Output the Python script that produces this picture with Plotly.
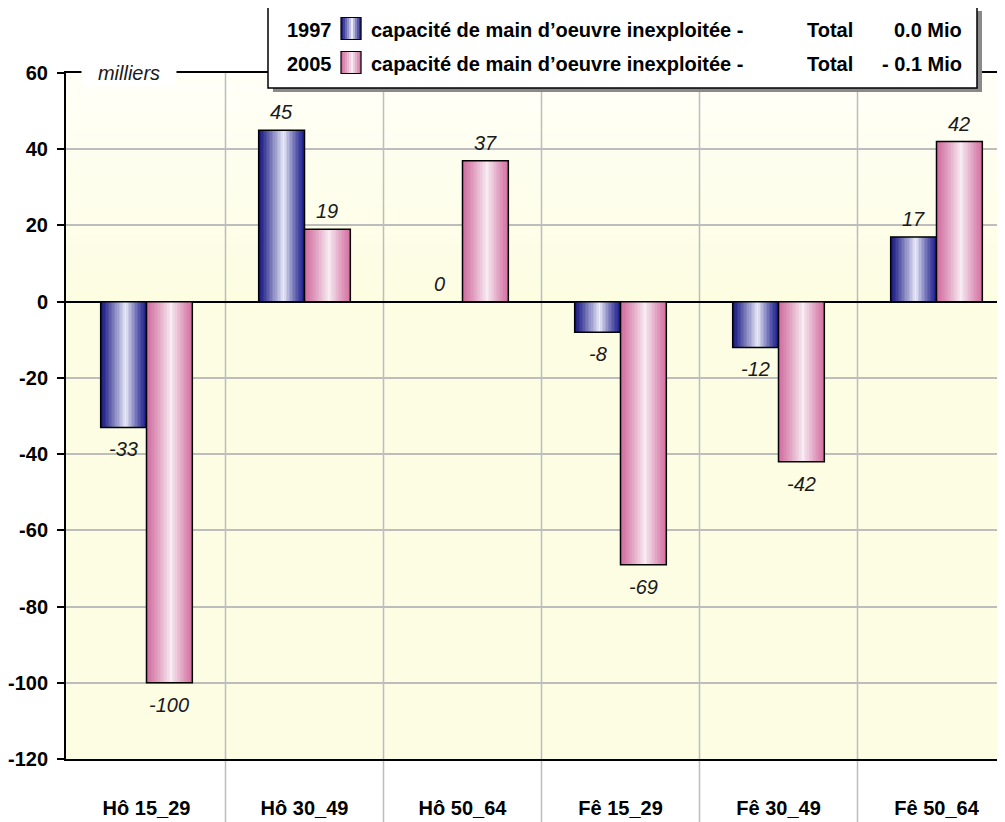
import plotly.graph_objects as go

categories = ["Hô 15_29", "Hô 30_49", "Hô 50_64", "Fê 15_29", "Fê 30_49", "Fê 50_64"]
values_1997 = [-33, 45, 0, -8, -12, 17]
values_2005 = [-100, 19, 37, -69, -42, 42]
series_names = ["1997", "2005"]
legend_label = "capacité de main d’oeuvre inexploitée -"
legend_totals = ["0.0 Mio", "- 0.1 Mio"]
y_ticks = [60, 40, 20, 0, -20, -40, -60, -80, -100, -120]
y_tick_text = ["60", "40", "20", "0", "-20", "-40", "-60", "-80", "-100", "-120"]

# the page body has an 8px margin: reference pixel coords are shifted by 8
OFF = 8
W, H = 1005 - OFF, 822 - OFF
ML, MT = 66 - OFF, 73 - OFF
PH = 759 - 73
MB = H - MT - PH
MR = 0
PW = W - ML - MR
FONT = "Arial, Liberation Sans, sans-serif"

def xp(px):
    return (px - 66) / PW

def yp(py):
    return (759 - py) / PH

def mix(c1, c2, t):
    return "rgb(%d,%d,%d)" % tuple(round(a + (b - a) * t) for a, b in zip(c1, c2))

def mixt(c1, c2, t):
    return tuple(round(a + (b - a) * t) for a, b in zip(c1, c2))

def profile(f, peak=0.55):
    if f < peak:
        t = f / peak
    else:
        t = 1 - (f - peak) / (1 - peak)
    return t ** 1.2

styles = [
    dict(left=(20, 20, 125), right=(35, 35, 145), light=(234, 234, 248)),
    dict(left=(208, 108, 158), right=(214, 116, 165), light=(247, 236, 242)),
]

BW = 0.29
N = 30
fig = go.Figure()
x_idx = list(range(len(categories)))
for s, vals in enumerate([values_1997, values_2005]):
    st = styles[s]
    left = -BW if s == 0 else 0.0
    for j in range(N):
        f = (j + 0.5) / N
        col = mix(mixt(st["left"], st["right"], f), st["light"], profile(f))
        fig.add_trace(go.Bar(
            x=x_idx, y=vals, offset=left + j * BW / N, width=BW / N * 1.15,
            marker=dict(color=col, line=dict(width=0)),
            showlegend=False, hoverinfo="skip"))
    fig.add_trace(go.Bar(
        x=x_idx, y=vals, offset=left, width=BW, name=series_names[s],
        marker=dict(color="rgba(0,0,0,0)", line=dict(color="black", width=1.5)),
        showlegend=False))

annotations = []
for s, vals in enumerate([values_1997, values_2005]):
    cx = -BW / 2 if s == 0 else BW / 2
    for i, v in enumerate(vals):
        annotations.append(dict(xref="x", yref="y", x=i + cx, y=v, text=str(v), showarrow=False,
                                xanchor="center", yanchor="middle", yshift=18 if v >= 0 else -22,
                                font=dict(family=FONT, size=20, color="#1a1a1a", style="italic")))

shapes = []
top_c, bot_c = (255, 255, 248), (253, 253, 226)
nb = 24
for k in range(nb):
    y0 = 60 - k * 60 / nb
    y1 = y0 - 60 / nb
    shapes.append(dict(type="rect", xref="paper", yref="y", x0=0, x1=1, y0=y1, y1=y0,
                       fillcolor=mix(top_c, bot_c, (k + 0.5) / nb), line=dict(width=0), layer="below"))
for g in [0.5, 1.5, 2.5, 3.5, 4.5]:
    shapes.append(dict(type="line", xref="x", yref="paper", x0=g, x1=g, y0=yp(830), y1=1,
                       line=dict(color="#bdbdbd", width=1.5), layer="below"))

# legend box
shapes.append(dict(type="rect", xref="paper", yref="paper", x0=xp(273), x1=xp(982), y0=yp(92), y1=yp(11),
                   fillcolor="#8a8a8a", line=dict(width=0), layer="above"))
shapes.append(dict(type="rect", xref="paper", yref="paper", x0=xp(268), x1=xp(977), y0=yp(88), y1=yp(6),
                   fillcolor="white", line=dict(color="black", width=1.5), layer="above"))
rows_y = [30, 64]
sw_y = [28.5, 62.5]
for r, ry in enumerate(rows_y):
    st = styles[r]
    sx0, sx1 = 341, 361
    sy = sw_y[r]
    ns = 10
    for j in range(ns):
        f = (j + 0.5) / ns
        base = mixt(st["left"], st["right"], f)
        shapes.append(dict(type="rect", xref="paper", yref="paper",
                           x0=xp(sx0 + j * (sx1 - sx0) / ns), x1=xp(sx0 + (j + 1.1) * (sx1 - sx0) / ns),
                           y0=yp(sy + 11), y1=yp(sy - 11),
                           fillcolor=mix(base, st["light"], profile(f)), line=dict(width=0), layer="above"))
    shapes.append(dict(type="rect", xref="paper", yref="paper", x0=xp(sx0), x1=xp(sx1),
                       y0=yp(sy + 11), y1=yp(sy - 11), fillcolor="rgba(0,0,0,0)",
                       line=dict(color="black", width=1.2), layer="above"))
    bold = dict(family=FONT, size=20, color="black", weight="bold")
    annotations.append(dict(xref="paper", yref="paper", x=xp(285), y=yp(ry), text=series_names[r],
                            showarrow=False, xanchor="left", yanchor="middle", font=bold))
    annotations.append(dict(xref="paper", yref="paper", x=xp(369), y=yp(ry), text=legend_label,
                            showarrow=False, xanchor="left", yanchor="middle", font=bold))
    annotations.append(dict(xref="paper", yref="paper", x=xp(805), y=yp(ry), text="Total",
                            showarrow=False, xanchor="left", yanchor="middle", font=bold))
    annotations.append(dict(xref="paper", yref="paper", x=xp(964), y=yp(ry), text=legend_totals[r],
                            showarrow=False, xanchor="right", yanchor="middle", font=bold))

annotations.append(dict(xref="paper", yref="paper", x=xp(129), y=1, text="milliers", showarrow=False,
                        xanchor="center", yanchor="middle", bgcolor="white", width=92,
                        font=dict(family=FONT, size=20, color="#1a1a1a", style="italic")))

xr0 = -0.5 - 1.5 / 158
xr1 = xr0 + PW / 158

fig.update_layout(
    width=W, height=H, margin=dict(l=ML, r=MR, t=MT, b=MB, pad=0),
    paper_bgcolor="white", plot_bgcolor="#fdfde4",
    barmode="overlay", showlegend=False,
    shapes=shapes, annotations=annotations,
    font=dict(family=FONT),
    xaxis=dict(range=[xr0, xr1], tickvals=x_idx, ticktext=categories, showgrid=False,
               ticks="", ticklabelstandoff=30, showline=True, mirror=True, linecolor="black", linewidth=2,
               zeroline=False, tickfont=dict(family=FONT, size=20, color="black", weight="bold")),
    yaxis=dict(range=[-120, 60], tickvals=y_ticks, ticktext=y_tick_text, showgrid=True,
               gridcolor="#bdbdbd", gridwidth=1.5,
               zeroline=True, zerolinecolor="black", zerolinewidth=2,
               showline=True, linecolor="black", linewidth=2, ticks="outside", ticklen=7, tickwidth=1.5,
               tickcolor="black", ticklabelstandoff=5,
               tickfont=dict(family=FONT, size=20, color="black", weight="bold")),
)

fig.write_html("out.html")
